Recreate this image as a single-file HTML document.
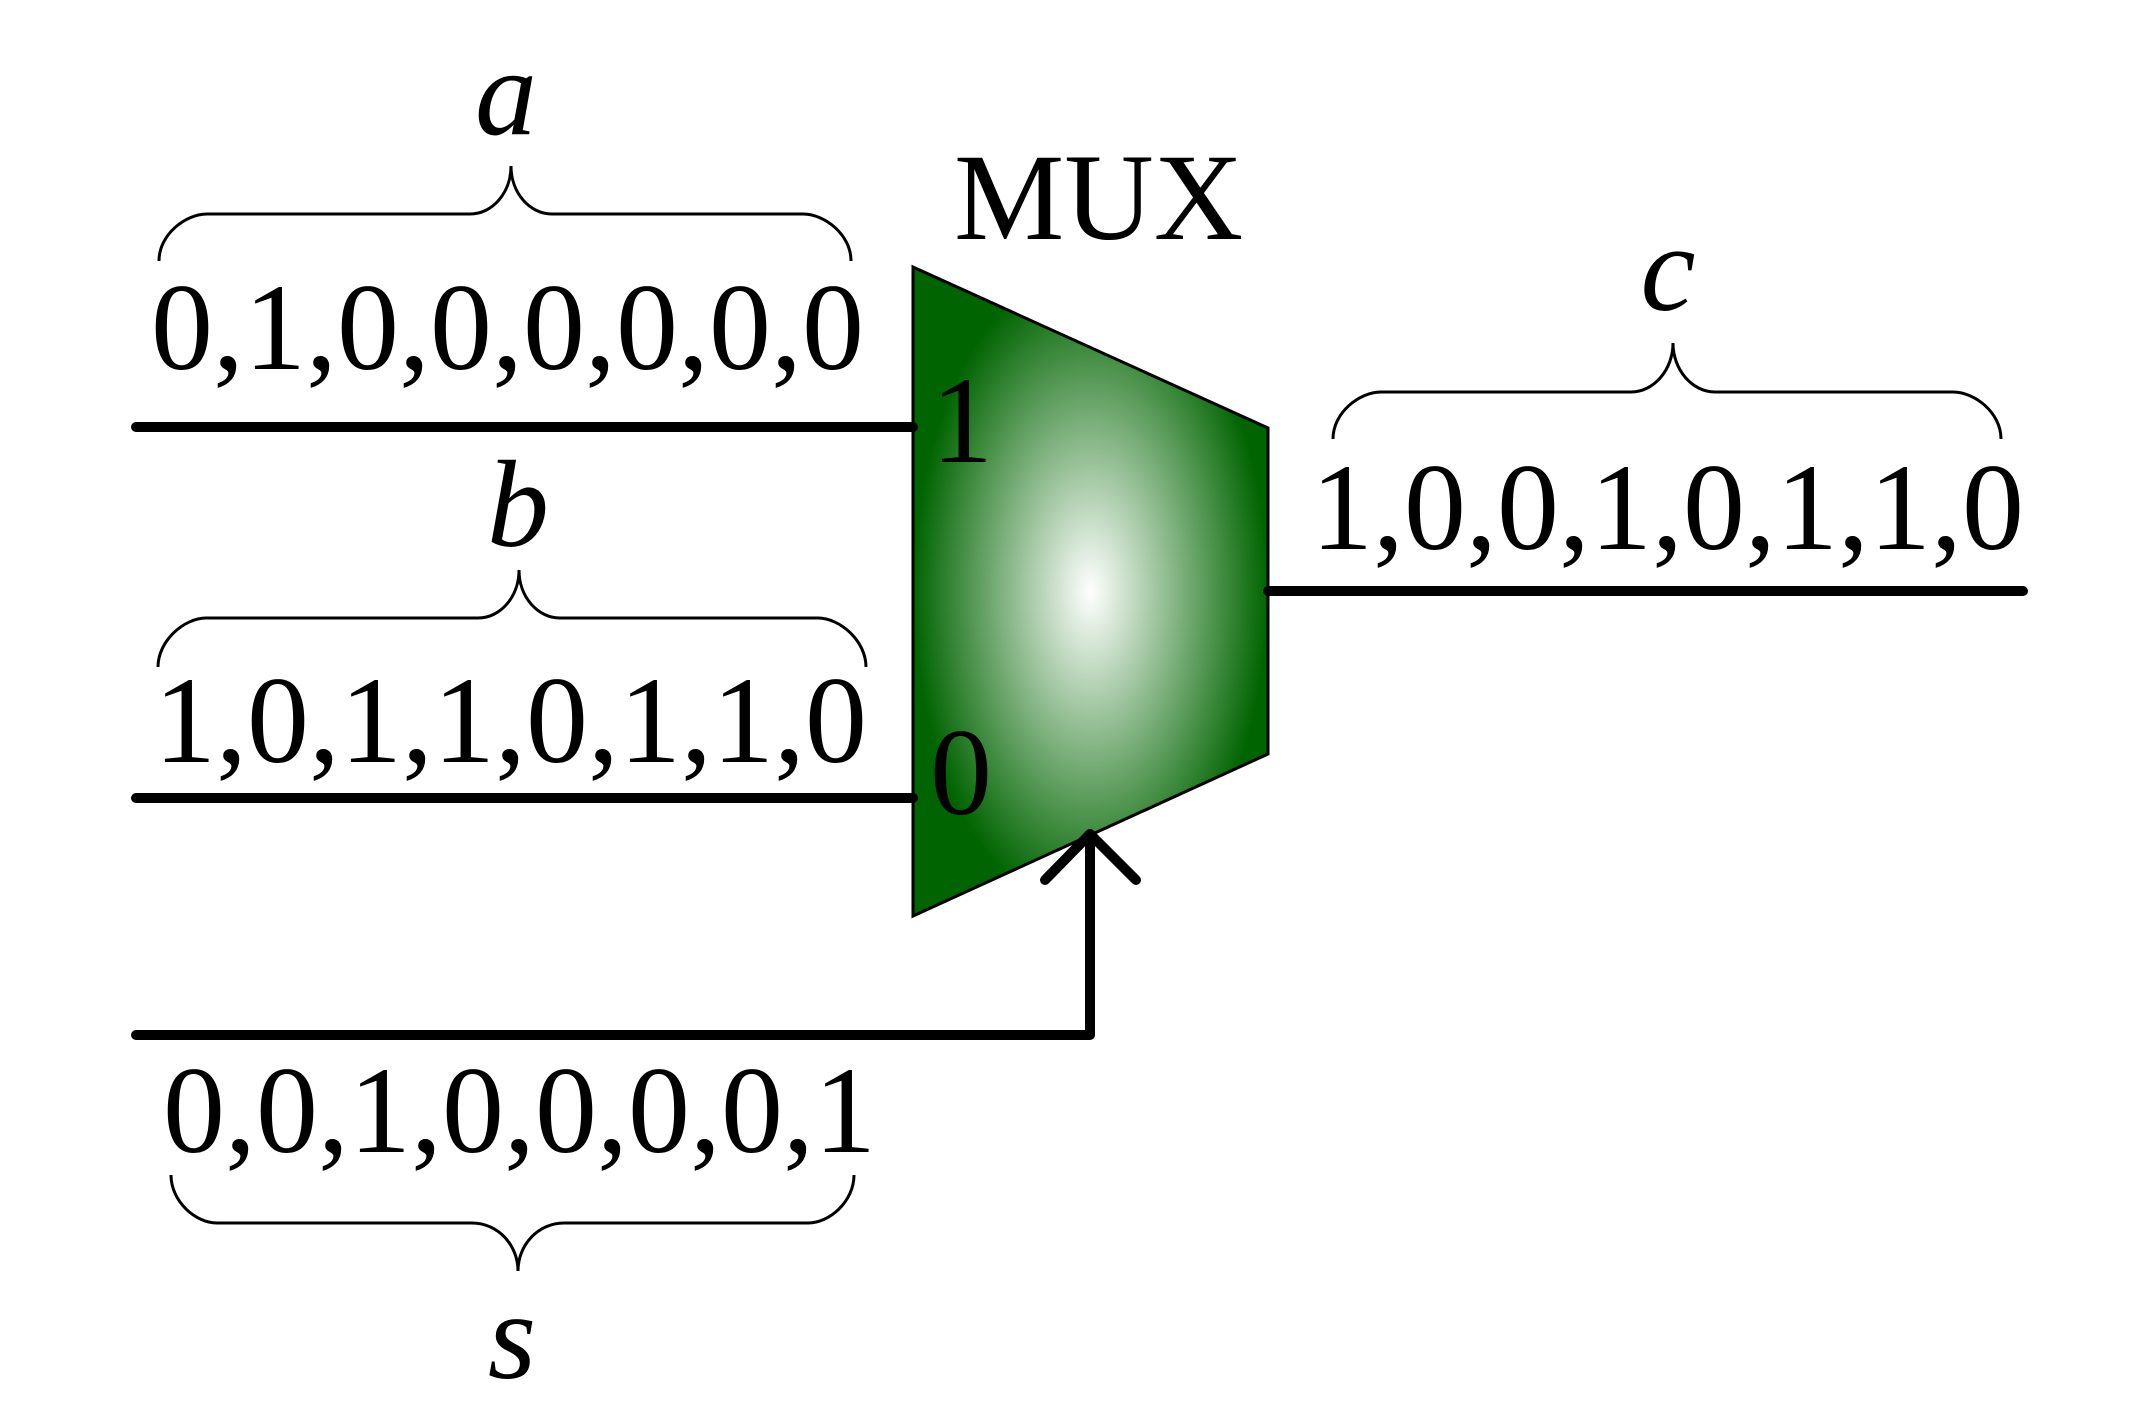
<!DOCTYPE html>
<html>
<head>
<meta charset="utf-8">
<style>
  html, body { margin: 0; padding: 0; background: #ffffff; }
  body { width: 2156px; height: 1417px; overflow: hidden; }
  svg { display: block; }
  .t { font-family: "Liberation Serif", "Times New Roman", serif; font-size: 124px; fill: #000; }
  .i { font-style: italic; }
</style>
</head>
<body>
<svg width="2156" height="1417" viewBox="0 0 2156 1417" xmlns="http://www.w3.org/2000/svg">
  <defs>
    <radialGradient id="g" cx="50%" cy="50%" r="50%">
      <stop offset="0" stop-color="#ffffff"/>
      <stop offset="1" stop-color="#006400"/>
    </radialGradient>
  </defs>
  <rect x="0" y="0" width="2156" height="1417" fill="#ffffff"/>

  <!-- MUX trapezoid -->
  <polygon points="913,267 1268,428 1268,754 913,916" fill="url(#g)" stroke="#000" stroke-width="3" stroke-linejoin="miter"/>

  <!-- wires -->
  <g stroke="#000" stroke-width="10" stroke-linecap="round" stroke-linejoin="round" fill="none">
    <line x1="136" y1="427" x2="913" y2="427"/>
    <line x1="136" y1="798" x2="913" y2="798"/>
    <line x1="1268" y1="591" x2="2023" y2="591"/>
    <path d="M136,1035 H1090 V834"/>
    <polyline points="1045,880 1090,834 1136,880"/>
  </g>

  <!-- braces -->
  <g stroke="#000" stroke-width="3" fill="none" stroke-linecap="butt">
    <!-- brace a: x0=159 x1=851 xm=511 yt=166 yh=214 ye=261 -->
    <path d="M159,261 C159,234.5 185.5,214 207,214 L470,214 C492.6,214 511,192.5 511,166 C511,192.5 529.4,214 552,214 L803,214 C824.5,214 851,234.5 851,261"/>
    <!-- brace b: x0=158 x1=866 xm=519 yt=570 yh=618 ye=667 -->
    <path d="M158,667 C158,640.5 184.5,618 206,618 L478,618 C500.6,618 519,596.5 519,570 C519,596.5 537.4,618 560,618 L818,618 C839.5,618 866,640.5 866,667"/>
    <!-- brace c: x0=1333 x1=2001 xm=1673 yt=343 yh=392 ye=439 -->
    <path d="M1333,439 C1333,412.5 1359.5,392 1381,392 L1631,392 C1653.6,392 1673,370 1673,343 C1673,370 1692.4,392 1715,392 L1953,392 C1974.5,392 2001,412.5 2001,439"/>
    <!-- brace s (inverted): x0=171 x1=854 xm=518 ye=1175 yh=1223 yt=1271 -->
    <path d="M171,1175 C171,1201.5 195.5,1223 217,1223 L472,1223 C497.4,1223 518,1244.5 518,1271 C518,1244.5 538.6,1223 564,1223 L808,1223 C829.5,1223 854,1201.5 854,1175"/>
  </g>

  <!-- labels -->
  <text class="t" x="954" y="239">MUX</text>
  <text class="t i" x="506" y="134" text-anchor="middle">a</text>
  <text class="t i" x="518" y="546" text-anchor="middle">b</text>
  <text class="t i" x="1668" y="310" text-anchor="middle">c</text>
  <text class="t i" x="512" y="1378" text-anchor="middle">s</text>

  <text class="t" x="151" y="369">0,1,0,0,0,0,0,0</text>
  <text class="t" x="154" y="762">1,0,1,1,0,1,1,0</text>
  <text class="t" x="1311" y="549">1,0,0,1,0,1,1,0</text>
  <text class="t" x="163" y="1152">0,0,1,0,0,0,0,1</text>

  <text class="t" x="931" y="462">1</text>
  <text class="t" x="930" y="814">0</text>
</svg>
</body>
</html>
